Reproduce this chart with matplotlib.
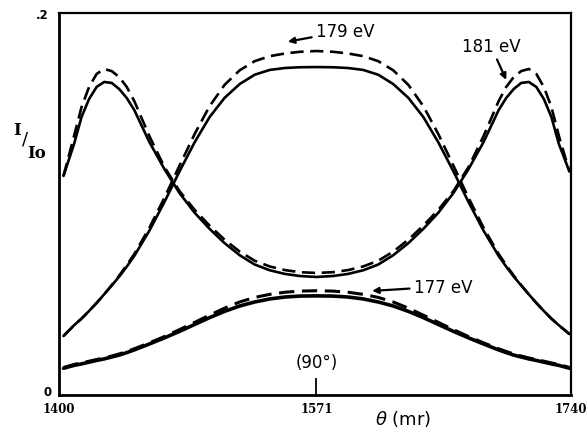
import matplotlib
matplotlib.use("Agg")
import matplotlib.pyplot as plt

# theta in mr, intensities I/I0
theta = [1403, 1410, 1415, 1420, 1425, 1430, 1435, 1440, 1445, 1450, 1460, 1470,
         1480, 1490, 1500, 1510, 1520, 1530, 1540, 1550, 1560, 1571,
         1582, 1592, 1602, 1612, 1622, 1632, 1642, 1652, 1662, 1672, 1682,
         1692, 1697, 1702, 1707, 1712, 1717, 1722, 1727, 1732, 1739]

i181_solid = [.1147, .1314, .1456, .1550, .1613, .1639, .1634, .1602, .1555, .1492, .1325, .1183,
              .1058, .0955, .0870, .0795, .0732, .0683, .0653, .0634, .0623, .0618,
              .0623, .0634, .0653, .0683, .0732, .0795, .0870, .0955, .1058, .1183, .1325,
              .1492, .1555, .1602, .1634, .1639, .1613, .1550, .1456, .1314, .1170]
i181_dash = [.1147, .1356, .1508, .1613, .1681, .1707, .1696, .1665, .1613, .1539, .1356, .1194,
             .1068, .0970, .0887, .0813, .0751, .0703, .0673, .0654, .0643, .0639,
             .0643, .0654, .0673, .0703, .0751, .0813, .0887, .0970, .1068, .1194, .1356,
             .1539, .1613, .1665, .1696, .1707, .1681, .1613, .1508, .1356, .1170]
i179_solid = [.0309, .0365, .0400, .0440, .0482, .0527, .0573, .0620, .0672, .0728, .0860, .1010,
              .1170, .1322, .1455, .1556, .1628, .1677, .1702, .1712, .1716, .1717,
              .1716, .1712, .1702, .1677, .1628, .1556, .1455, .1322, .1170, .1010, .0860,
              .0728, .0672, .0620, .0573, .0527, .0482, .0440, .0400, .0365, .0319]
i179_dash = [.0309, .0365, .0400, .0440, .0482, .0527, .0575, .0625, .0680, .0738, .0875, .1032,
             .1200, .1365, .1512, .1624, .1700, .1748, .1774, .1788, .1797, .1801,
             .1797, .1788, .1774, .1748, .1700, .1624, .1512, .1365, .1200, .1032, .0875,
             .0738, .0680, .0625, .0575, .0527, .0482, .0440, .0400, .0365, .0319]
i177_solid = [.0140, .0155, .0163, .0172, .0181, .0189, .0199, .0209, .0222, .0236, .0267, .0299,
              .0333, .0369, .0405, .0438, .0466, .0487, .0503, .0513, .0518, .0519,
              .0518, .0513, .0503, .0487, .0466, .0438, .0405, .0369, .0333, .0299, .0267,
              .0236, .0222, .0209, .0199, .0189, .0181, .0172, .0163, .0155, .0140]
i177_dash = [.0144, .0160, .0168, .0177, .0186, .0194, .0204, .0215, .0228, .0242, .0273, .0306,
             .0342, .0380, .0418, .0455, .0487, .0511, .0527, .0538, .0544, .0546,
             .0544, .0538, .0527, .0511, .0487, .0455, .0418, .0380, .0342, .0306, .0273,
             .0242, .0228, .0215, .0204, .0194, .0186, .0177, .0168, .0160, .0144]

xtick_vals = [1400, 1571, 1740]
xtick_text = ["1400", "1571", "1740"]

fig = plt.figure(figsize=(5.88, 4.31), dpi=100)
ax = fig.add_axes([0.1003, 0.0812, 0.8707, 0.8863])

dash = (5, 2.5)
for ys, lw in [(i181_solid, 1.9), (i179_solid, 1.9), (i177_solid, 2.6)]:
    ax.plot(theta, ys, color="k", lw=lw, solid_capstyle="round", solid_joinstyle="round")
for ys, lw in [(i181_dash, 1.9), (i179_dash, 1.9), (i177_dash, 2.2)]:
    ax.plot(theta, ys, color="k", lw=lw, dashes=dash)

ax.set_xlim(1400, 1740)
ax.set_ylim(0, 0.2)

for side, lw in [("left", 2.0), ("bottom", 2.0), ("top", 1.6), ("right", 1.6)]:
    ax.spines[side].set_linewidth(lw)

ax.set_xticks(xtick_vals)
ax.set_xticklabels(xtick_text, fontsize=8.5, fontweight="bold", family="DejaVu Serif")
ax.tick_params(axis="x", length=0, pad=5)
ax.set_yticks([])
ax.text(-0.015, 0.008, "0", transform=ax.transAxes, ha="right", va="center",
        fontsize=8.5, fontweight="bold")
ax.text(-0.02, 0.995, ".2", transform=ax.transAxes, ha="right", va="center",
        fontsize=8.5, fontweight="bold")

# 90 degree marker
ax.axvline(1571, ymax=0.042, color="k", lw=1.3)
ax.text(1571, 0.0175, "(90°)", ha="center", va="center", fontsize=12)

# I/Io label built from pieces
fig.text(17 / 588, 1 - 131 / 431, "I", family="DejaVu Serif", fontweight="bold",
         fontsize=12, ha="center", va="center")
fig.text(25 / 588, 1 - 140 / 431, "/", family="DejaVu Sans", fontsize=13,
         ha="center", va="center")
fig.text(37 / 588, 1 - 153 / 431, "Io", family="DejaVu Serif", fontweight="bold",
         fontsize=12, ha="center", va="center")

ax.text(0.672, -0.060, r"$\theta$ (mr)", transform=ax.transAxes, ha="center",
        va="center", fontsize=13)

arrow = dict(arrowstyle="-|>", color="k", lw=1.6, mutation_scale=9,
             shrinkA=1, shrinkB=0)
ax.annotate("179 eV", xy=(1552, 0.1850), xytext=(1590, 0.1905),
            ha="center", va="center", fontsize=12, arrowprops=arrow)
ax.annotate("181 eV", xy=(1697, 0.1650), xytext=(1687, 0.1825),
            ha="center", va="center", fontsize=12, arrowprops=arrow)
ax.annotate("177 eV", xy=(1608, 0.0545), xytext=(1655, 0.0568),
            ha="center", va="center", fontsize=12, arrowprops=arrow)

fig.savefig("out.png", dpi=100)
